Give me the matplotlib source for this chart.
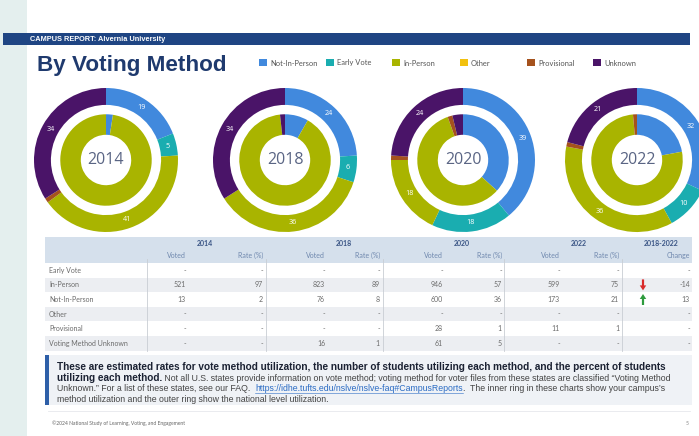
import matplotlib
matplotlib.use("Agg")
import matplotlib.pyplot as plt
import matplotlib.patches as mpatches

W, H = 699, 436

# ring order, clockwise from 12 o'clock (same as legend)
methods = ["Not-In-Person", "Early Vote", "In-Person", "Other", "Provisional", "Unknown"]
method_colors = ["#4189DD", "#1AADB0", "#A9B400", "#F2C10F", "#A5521D", "#4A1468"]

years = ["2014", "2018", "2020", "2022"]

# national level (outer ring), percent
national_2014 = [19, 5, 41, 0, 1, 34]
national_2018 = [24, 6, 36, 0, 0, 34]
national_2020 = [39, 18, 18, 0, 1, 24]
national_2022 = [32, 10, 36, 0, 1, 21]

# campus table
row_labels = ["Early Vote", "In-Person", "Not-In-Person", "Other", "Provisional",
              "Voting Method Unknown"]
voted_2014 = [None, 521, 13, None, None, None]
rate_2014 = [None, 97, 2, None, None, None]
voted_2018 = [None, 823, 76, None, None, 16]
rate_2018 = [None, 89, 8, None, None, 1]
voted_2020 = [None, 946, 600, None, 28, 61]
rate_2020 = [None, 57, 36, None, 1, 5]
voted_2022 = [None, 599, 173, None, 11, None]
rate_2022 = [None, 75, 21, None, 1, None]

# which table row feeds which ring slice
row_of_method = [2, 0, 1, 3, 4, 5]

NAVY = "#1F4583"
TXT = "#6B6B6B"

fig = plt.figure(figsize=(W / 100, H / 100), dpi=100)
ax = fig.add_axes([0, 0, 1, 1])
ax.set_xlim(0, W)
ax.set_ylim(H, 0)
ax.axis("off")

# page furniture
ax.add_patch(mpatches.Rectangle((0, 0), 27, H, color="#E4EFEE", lw=0))
ax.add_patch(mpatches.Rectangle((3, 33), 687, 12, color=NAVY, lw=0))
ax.text(30, 39.5, "CAMPUS REPORT: Alvernia University", color="white", fontsize=5.3,
        fontweight="bold", va="center", family="Liberation Sans")
ax.text(37, 65, "By Voting Method", color="#1F3A6E", fontsize=16.2, fontweight="bold",
        va="center", family="Liberation Sans")

# legend
leg_x = [259, 326, 392, 460, 527, 593]
for lx, lab, col in zip(leg_x, methods, method_colors):
    ax.add_patch(mpatches.Rectangle((lx, 59), 7.5, 7.5, color=col, lw=0))
    ax.text(lx + 11, 63, lab, fontsize=5.4, color="#555555", va="center", family="Lato")

# donuts
centers = [106, 285, 463, 637]
national = [national_2014, national_2018, national_2020, national_2022]
campus_voted = [voted_2014, voted_2018, voted_2020, voted_2022]
R = 72
cy = 160


def fmt(vals):
    tot = sum(vals)
    return lambda p: f"{p * tot / 100:.0f}" if p >= 4.5 else ""


for cx, yr, nat, cv in zip(centers, years, national, campus_voted):
    pa = fig.add_axes([(cx - R) / W, 1 - (cy + R) / H, 2 * R / W, 2 * R / H])
    pa.pie(nat, colors=method_colors, startangle=90, counterclock=False, radius=1.0,
           wedgeprops=dict(width=0.235, lw=0), autopct=fmt(nat), pctdistance=0.88,
           textprops=dict(color="white", fontsize=5.2, family="Open Sans"))
    inner = [cv[i] or 0 for i in row_of_method]
    pa.pie(inner, colors=method_colors, startangle=90, counterclock=False, radius=0.635,
           wedgeprops=dict(width=0.285, lw=0))
    pa.set_xlim(-1, 1)
    pa.set_ylim(-1, 1)
    pa.text(0, 0, yr, ha="center", va="center", fontsize=11.5, color="#5A6584",
            family="Open Sans")

# table
tab_l, tab_r = 45, 692
head_top, head_bot = 237, 263
row_h = 14.6
ax.add_patch(mpatches.Rectangle((tab_l, head_top), tab_r - tab_l, head_bot - head_top,
                                color="#D5E0EC", lw=0))
for i, lab in enumerate(row_labels):
    y0 = head_bot + i * row_h
    if i % 2 == 1:
        ax.add_patch(mpatches.Rectangle((tab_l, y0), tab_r - tab_l, row_h, color="#ECEEF2", lw=0))
    ax.text(49, y0 + row_h / 2, lab, fontsize=5, color=TXT, va="center", family="Lato")

tab_font = dict(fontsize=5, va="center", family="Lato")
col_cols = [(voted_2014, rate_2014), (voted_2018, rate_2018),
            (voted_2020, rate_2020), (voted_2022, rate_2022)]
voted_x = [186, 325, 443, 560]
rate_x = [263, 380, 502, 619]
for yr, (vo, ra), vx, rx in zip(years, col_cols, voted_x, rate_x):
    ax.text(vx + 19, 243.5, yr, ha="center", fontweight="bold", color="#3A5585", **tab_font)
    ax.text(vx, 255, "Voted", ha="right", color="#6F88AE", **tab_font)
    ax.text(rx, 255, "Rate (%)", ha="right", color="#6F88AE", **tab_font)
    for i in range(len(row_labels)):
        y = head_bot + i * row_h + row_h / 2
        ax.text(vx, y, "-" if vo[i] is None else str(vo[i]), ha="right", color=TXT, **tab_font)
        ax.text(rx, y, "-" if ra[i] is None else str(ra[i]), ha="right", color=TXT, **tab_font)

chg_x = 690
ax.text(661, 243.5, "2018-2022", ha="center", fontweight="bold", color="#3A5585", **tab_font)
ax.text(chg_x, 255, "Change", ha="right", color="#6F88AE", **tab_font)
for i in range(len(row_labels)):
    y = head_bot + i * row_h + row_h / 2
    if rate_2018[i] is None or rate_2022[i] is None:
        ax.text(chg_x, y, "-", ha="right", color=TXT, **tab_font)
        continue
    d = rate_2022[i] - rate_2018[i]
    ax.text(chg_x, y, str(d), ha="right", color=TXT, **tab_font)
    col = "#2E9B3E" if d > 0 else "#D92B2B"
    sgn = -1 if d > 0 else 1
    ax.add_patch(mpatches.FancyArrow(643, y - sgn * 5.5, 0, sgn * 11, width=2.2, head_width=6.5,
                                     head_length=5, length_includes_head=True, color=col, lw=0))

tab_bot = head_bot + len(row_labels) * row_h
for sx in [147, 266, 383, 504, 622]:
    ax.plot([sx, sx], [head_bot - 4, tab_bot], color="#C9CDD3", lw=0.6)

# note box
ax.add_patch(mpatches.Rectangle((tab_l, 355), tab_r - tab_l, 50, color="#EFF2F6", lw=0))
ax.add_patch(mpatches.Rectangle((tab_l, 355), 3.5, 50, color="#2E5FA8", lw=0))
note_fam = "Liberation Sans"
bfs, rfs = 7.2, 6.35
ax.text(57, 366.5, "These are estimated rates for vote method utilization, the number of students "
        "utilizing each method, and the percent of students", fontsize=bfs, fontweight="bold",
        color="#1B2233", va="center", family=note_fam)
t = ax.text(57, 377.5, "utilizing each method.", fontsize=bfs, fontweight="bold",
            color="#1B2233", va="center", family=note_fam)
ax.annotate(" Not all U.S. states provide information on vote method; voting method for voter "
            "files from these states are classified \u201cVoting Method", xy=(1, 0), xycoords=t,
            va="bottom", ha="left", fontsize=rfs, color="#444444", family=note_fam)
t = ax.text(57, 388.5, "Unknown.\u201d For a list of these states, see our FAQ.  ",
            fontsize=rfs, color="#444444", va="center", family=note_fam)
link = ax.annotate("https://idhe.tufts.edu/nslve/nslve-faq#CampusReports", xy=(1, 0),
                   xycoords=t, va="bottom", ha="left", fontsize=rfs, color="#2B6CC4",
                   family=note_fam)
ax.annotate(".  The inner ring in these charts show your campus\u2019s", xy=(1, 0),
            xycoords=link, va="bottom", ha="left", fontsize=rfs, color="#444444",
            family=note_fam)
ax.text(57, 399, "method utilization and the outer ring show the national level utilization.",
        fontsize=rfs, color="#444444", va="center", family=note_fam)

# footer
ax.plot([48, 690], [411, 411], color="#E6E8EC", lw=0.6)
ax.text(52, 423, "\u00a92024 National Study of Learning, Voting, and Engagement", fontsize=3.6,
        color="#666666", va="center", family="Lato")
ax.text(686, 423, "5", fontsize=3.6, color="#888888", va="center", family="Lato")

# underline the link
fig.canvas.draw()
bb = link.get_window_extent().transformed(ax.transData.inverted())
ax.plot([bb.x0, bb.x1], [bb.y0 - 0.3, bb.y0 - 0.3], color="#2B6CC4", lw=0.4)

fig.savefig("out.png", dpi=100)
